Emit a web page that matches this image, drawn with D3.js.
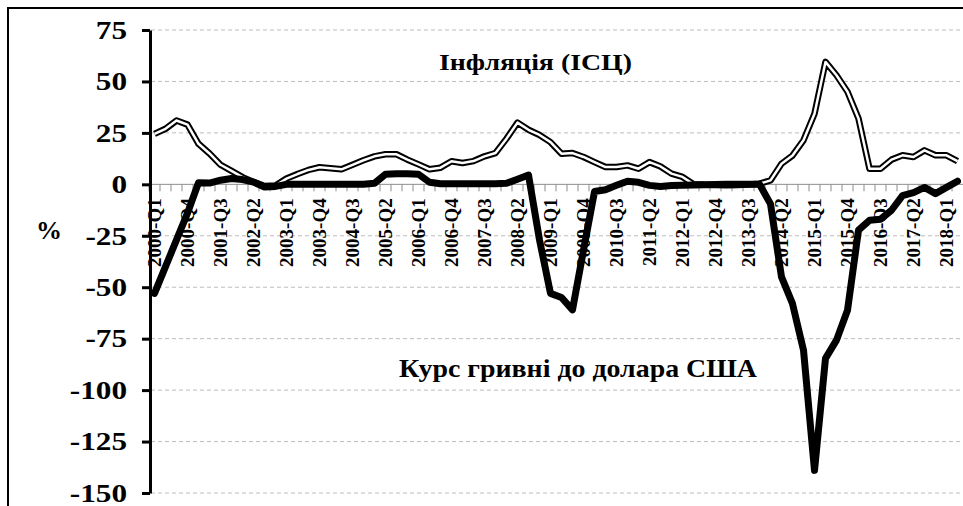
<!DOCTYPE html>
<html>
<head>
<meta charset="utf-8">
<script src="https://cdn.jsdelivr.net/npm/d3@7"></script>
<style>
  body { margin: 0; background: #fff; }
  svg { display: block; }
  text { font-family: "Liberation Serif", "Times New Roman", serif; font-weight: bold; }
</style>
</head>
<body>
<svg width="963" height="506"></svg>
<script>
var quarters = [
  "2000-Q1","2000-Q2","2000-Q3","2000-Q4","2001-Q1","2001-Q2","2001-Q3","2001-Q4",
  "2002-Q1","2002-Q2","2002-Q3","2002-Q4","2003-Q1","2003-Q2","2003-Q3","2003-Q4",
  "2004-Q1","2004-Q2","2004-Q3","2004-Q4","2005-Q1","2005-Q2","2005-Q3","2005-Q4",
  "2006-Q1","2006-Q2","2006-Q3","2006-Q4","2007-Q1","2007-Q2","2007-Q3","2007-Q4",
  "2008-Q1","2008-Q2","2008-Q3","2008-Q4","2009-Q1","2009-Q2","2009-Q3","2009-Q4",
  "2010-Q1","2010-Q2","2010-Q3","2010-Q4","2011-Q1","2011-Q2","2011-Q3","2011-Q4",
  "2012-Q1","2012-Q2","2012-Q3","2012-Q4","2013-Q1","2013-Q2","2013-Q3","2013-Q4",
  "2014-Q1","2014-Q2","2014-Q3","2014-Q4","2015-Q1","2015-Q2","2015-Q3","2015-Q4",
  "2016-Q1","2016-Q2","2016-Q3","2016-Q4","2017-Q1","2017-Q2","2017-Q3","2017-Q4",
  "2018-Q1","2018-Q2"
];

// inflation (CPI), % y/y
var inflation = [
  24.5, 27, 31, 29, 19.7, 15, 9.5, 6.5,
  3.5, 1.2, -0.8, -0.6, 2.8, 5, 7, 8.3,
  7.8, 7.3, 9.5, 11.7, 13.6, 14.6, 14.6, 12,
  9.7, 7.3, 8.1, 11.2, 10.4, 11.3, 13.6, 15.2,
  22.2, 30, 26.5, 24, 20.5, 14.9, 15.2, 13.3,
  10.8, 8.4, 8.4, 9.2, 7.6, 10.8, 8.7, 5.2,
  3.6, 0.1, -0.2, -0.3, -0.5, -0.3, -0.1, 0.3,
  1.9, 10, 14, 21.4, 34.3, 59.5, 53, 45,
  32, 7.6, 7.6, 12, 14.1, 13.3, 16.5, 14.1,
  14.1, 11.3
];

// hryvnia exchange rate to USD, % change
var exchange = [
  -53, -40, -27, -14, 0.8, 0.6, 2, 2.8,
  2.3, 1.1, -1.3, -1, 0, 0, 0, 0,
  0, 0, 0, 0, 0.5, 4.9, 5.2, 5.2,
  4.9, 1, 0.3, 0.3, 0.3, 0.3, 0.3, 0.3,
  0.5, 2.5, 4.5, -27, -53, -55, -61, -32,
  -3.5, -2.6, -0.5, 1.5, 1, -0.5, -1, -0.6,
  -0.5, -0.3, -0.2, -0.1, 0, 0, 0, 0,
  -9.5, -45, -58, -80.6, -139, -84.6, -75.7, -61.2,
  -22.3, -17.5, -17, -12.6, -5.5, -4, -1.5, -4.5,
  -1.5, 1.5
];

var yTicks = [75, 50, 25, 0, -25, -50, -75, -100, -125, -150];
var labelEvery = 3;

var svg = d3.select("svg");

// outer frame
svg.append("rect")
  .attr("x", 8).attr("y", 8)
  .attr("width", 980).attr("height", 520)
  .attr("fill", "none")
  .attr("stroke", "#000")
  .attr("stroke-width", 2);

var x = d3.scaleBand()
  .domain(quarters)
  .range([149, 963])
  .padding(0);

var y = d3.scaleLinear()
  .domain([-150, 75])
  .range([493, 30]);

var cx = function(q) { return x(q) + x.bandwidth() / 2; };

// dashed gridlines
svg.append("g")
  .selectAll("line")
  .data(yTicks.filter(function(d) { return d !== 0; }))
  .enter()
  .append("line")
  .attr("x1", 151).attr("x2", 963)
  .attr("y1", function(d) { return y(d); })
  .attr("y2", function(d) { return y(d); })
  .attr("stroke", "#bdbdbd")
  .attr("stroke-width", 1)
  .attr("stroke-dasharray", "4,3");

// category axis on zero line
var xg = svg.append("g").attr("class", "x-axis");
xg.append("line")
  .attr("x1", 150).attr("x2", 963)
  .attr("y1", y(0)).attr("y2", y(0))
  .attr("stroke", "#8c8c8c")
  .attr("stroke-width", 1);
xg.selectAll(".tick")
  .data(quarters)
  .enter()
  .append("line")
  .attr("x1", function(d) { return x(d); })
  .attr("x2", function(d) { return x(d); })
  .attr("y1", y(0)).attr("y2", y(0) + 7)
  .attr("stroke", "#8c8c8c")
  .attr("stroke-width", 1);
xg.selectAll("text")
  .data(quarters.filter(function(d, i) { return i % labelEvery === 0; }))
  .enter()
  .append("text")
  .attr("transform", function(d) {
    return "translate(" + cx(d) + "," + (y(0) + 14) + ") rotate(-90)";
  })
  .attr("dy", "0.35em")
  .attr("text-anchor", "end")
  .attr("font-size", "19px")
  .text(function(d) { return d; });

// inflation: double line
var inflLine = d3.line()
  .x(function(d, i) { return cx(quarters[i]); })
  .y(function(d) { return y(d); });

svg.append("path")
  .datum(inflation)
  .attr("d", inflLine)
  .attr("fill", "none")
  .attr("stroke", "#000")
  .attr("stroke-width", 6.5)
  .attr("stroke-linejoin", "round");
svg.append("path")
  .datum(inflation)
  .attr("d", inflLine)
  .attr("fill", "none")
  .attr("stroke", "#fff")
  .attr("stroke-width", 2.5)
  .attr("stroke-linejoin", "round");

// exchange rate: heavy line
svg.append("path")
  .datum(exchange)
  .attr("d", inflLine)
  .attr("fill", "none")
  .attr("stroke", "#000")
  .attr("stroke-width", 7)
  .attr("stroke-linejoin", "round")
  .attr("stroke-linecap", "round");

// value axis
var yAxis = d3.axisLeft(y)
  .tickValues(yTicks)
  .tickSize(8)
  .tickSizeOuter(0)
  .tickFormat(d3.format("d"));

var yg = svg.append("g")
  .attr("class", "y-axis")
  .attr("transform", "translate(150,0)")
  .call(yAxis);

yg.select(".domain").attr("stroke", "#000").attr("stroke-width", 3);
yg.selectAll(".tick line").attr("stroke", "#000").attr("stroke-width", 3);
yg.selectAll(".tick text")
  .attr("font-size", "25px")
  .attr("fill", "#000")
  .attr("x", -18.4)
  .attr("dy", "0.33em")
  .attr("transform", "scale(1.25,1)")
  .text(function(d) { return d; });

svg.append("text")
  .attr("x", 49).attr("y", 239)
  .attr("text-anchor", "middle")
  .attr("font-size", "26px")
  .text("%");

// series captions
svg.append("text")
  .attr("x", 439).attr("y", 70)
  .attr("font-size", "24px")
  .attr("textLength", 193)
  .attr("lengthAdjust", "spacingAndGlyphs")
  .text("Інфляція (ІСЦ)");

svg.append("text")
  .attr("x", 399).attr("y", 377)
  .attr("font-size", "25px")
  .attr("textLength", 358)
  .attr("lengthAdjust", "spacingAndGlyphs")
  .text("Курс гривні до долара США");
</script>
</body>
</html>
